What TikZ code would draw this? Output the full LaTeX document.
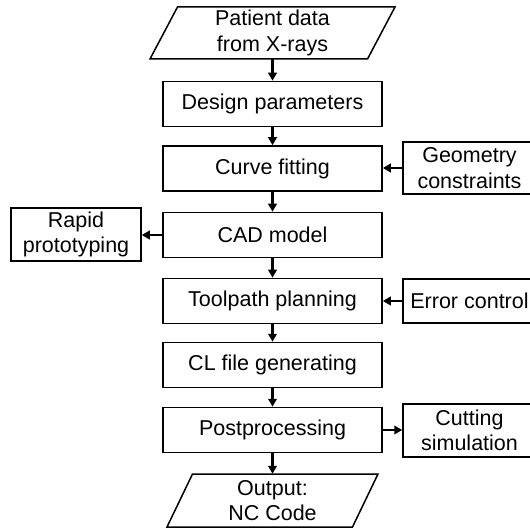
\documentclass[tikz,border=0pt]{standalone}
\usepackage{fontspec}
\setmainfont{Liberation Sans}
\usetikzlibrary{arrows.meta,calc}
\tikzset{
  box/.style={draw=black, line width=1.5pt, rectangle, inner sep=0pt, align=center,
    font=\fontsize{21.5}{25.5}\selectfont},
  mainbox/.style={box, minimum width=219pt, minimum height=45pt},
  sidebox/.style={box, minimum width=133pt, minimum height=52pt},
  iobox/.style={rectangle, inner sep=0pt, align=center, minimum height=52pt, minimum width=150pt,
    font=\fontsize{21.5}{25.5}\selectfont},
  para/.style={draw=black, line width=1.5pt},
  arr/.style={line width=2.2pt, -{Triangle[length=8pt,width=8.5pt]}}
}
\begin{document}
\begin{tikzpicture}[x=1pt,y=-1pt]
\useasboundingbox (0,0) rectangle (530,529);
\node[iobox] (patient) at (272.5,33) {Patient data\\from X-rays};
\draw[para] ($(patient.center)+(-122.5,26)$) -- ($(patient.center)+(95,26)$) -- ($(patient.center)+(122.5,-26)$) -- ($(patient.center)+(-95,-26)$) -- cycle;
\node[mainbox] (design) at (272.5,104) {Design parameters};
\node[mainbox] (curve) at (272.5,168.5) {Curve fitting};
\node[mainbox] (cad) at (272.5,235) {CAD model};
\node[mainbox] (tool) at (272.5,301) {Toolpath planning};
\node[mainbox] (cl) at (272.5,365) {CL file generating};
\node[mainbox] (post) at (272.5,430) {Postprocessing};
\node[iobox, minimum height=53pt] (out) at (272.5,500.5) {Output:\\NC Code};
\draw[para] ($(out.center)+(-105.5,26.5)$) -- ($(out.center)+(80,26.5)$) -- ($(out.center)+(105.5,-26.5)$) -- ($(out.center)+(-80,-26.5)$) -- cycle;

\node[sidebox] (geo) at (469.5,168) {Geometry\\constraints};
\node[box, minimum width=130pt, minimum height=53pt] (rapid) at (76,234.5) {Rapid\\prototyping};
\node[box, minimum width=133pt, minimum height=44pt] (err) at (469.5,301) {Error control};
\node[sidebox, minimum height=53pt] (cut) at (469.5,430.5) {Cutting\\simulation};

\draw[arr] (patient.south) -- (design.north);
\draw[arr] (design.south) -- (curve.north);
\draw[arr] (curve.south) -- (cad.north);
\draw[arr] (cad.south) -- (tool.north);
\draw[arr] (tool.south) -- (cl.north);
\draw[arr] (cl.south) -- (post.north);
\draw[arr] (post.south) -- (out.north);
\draw[arr] (geo.west) -- (geo.west -| curve.east);
\draw[arr] (cad.west) -- (cad.west -| rapid.east);
\draw[arr] (err.west) -- (err.west -| tool.east);
\draw[arr] (post.east) -- (post.east -| cut.west);
\end{tikzpicture}
\end{document}
